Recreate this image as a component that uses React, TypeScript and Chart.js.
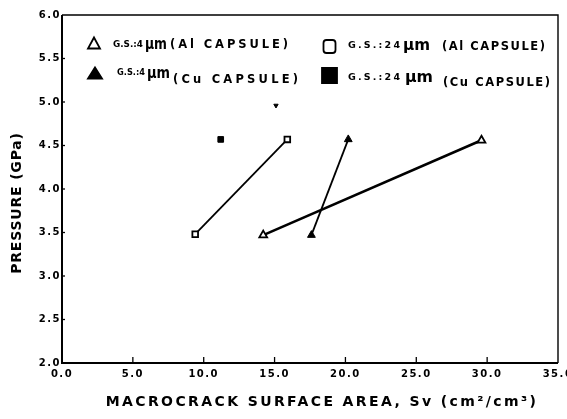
import React, { useEffect, useRef } from "react";
import { Chart, registerables } from "chart.js";

Chart.register(...registerables);

// ---- data ----
const xTickValues = [0, 5, 10, 15, 20, 25, 30, 35];
const yTickValues = [2.0, 2.5, 3.0, 3.5, 4.0, 4.5, 5.0, 5.5, 6.0];

const openTriX = [14.2, 29.6];
const openTriY = [3.47, 4.56];
const filledTriX = [17.6, 20.2];
const filledTriY = [3.47, 4.57];
const openSqX = [9.4, 15.9];
const openSqY = [3.48, 4.57];
const filledSqX = [11.2];
const filledSqY = [4.57];
const strayX = [15.1];
const strayY = [4.96];

const legendGS = ["G.S.:4", "G.S.:24", "G.S.:4", "G.S.:24"];
const legendUnit = ["μm", "μm", "μm", "μm"];
const legendCapsule = ["(Al CAPSULE)", "(Al CAPSULE)", "(Cu CAPSULE)", "(Cu CAPSULE)"];

const xTitle = "MACROCRACK SURFACE AREA, Sv (cm²/cm³)";
const yTitle = "PRESSURE (GPa)";

const FONT = "'DejaVu Sans', sans-serif";

const toPts = (xs: number[], ys: number[]) => xs.map((x, i) => ({ x, y: ys[i] }));

// legend layout (canvas px)
const legendLayout = [
  { mx: 94, my: 43, w: 12, h: 11, style: "tri", fill: false,
    gs: [113, 45, 30], mu: [145, 45, 22], cap: [170, 45, 118] },
  { mx: 329.5, my: 46.5, w: 14, h: 15, style: "sq", fill: false,
    gs: [348, 46, 52], mu: [403, 46, 27], cap: [442, 47, 103] },
  { mx: 95, my: 73, w: 14, h: 11, style: "tri", fill: true,
    gs: [117, 72.5, 28], mu: [147, 74, 23], cap: [173, 80, 125] },
  { mx: 329.5, my: 75.5, w: 15, h: 15, style: "sq", fill: true,
    gs: [348, 78, 52], mu: [405, 78, 28], cap: [443, 83, 107] },
];

function fitText(ctx: CanvasRenderingContext2D, text: string, x: number, y: number, w: number, font: string, mode: "space" | "scale") {
  ctx.save();
  ctx.font = font;
  ctx.letterSpacing = "0px";
  ctx.textAlign = "left";
  ctx.textBaseline = "middle";
  const raw = ctx.measureText(text).width;
  if (mode === "space" && raw < w && text.length > 1) {
    ctx.letterSpacing = `${(w - raw) / (text.length - 1)}px`;
    ctx.fillText(text, x, y);
  } else {
    ctx.translate(x, y);
    ctx.scale(w / raw, 1);
    ctx.fillText(text, 0, 0);
  }
  ctx.restore();
}

const spacingPlugin = {
  id: "spacing",
  beforeDraw(chart: any) {
    const cfg: any = {
      x: { title: "2.4px", labels: "1.5px", dx: 12, dy: 0 },
      y: { title: "0.8px", labels: "1.5px", dx: 0, dy: 14 },
    };
    Object.keys(cfg).forEach((id) => {
      const s = chart.scales[id];
      if (!s || s.__patched) return;
      s.__patched = true;
      const sp = cfg[id];
      const ot = s.drawTitle.bind(s);
      const ol = s.drawLabels.bind(s);
      s.drawTitle = (...args: any[]) => {
        const c = s.ctx;
        c.save();
        c.letterSpacing = sp.title;
        c.translate(sp.dx, sp.dy);
        ot(...args);
        c.restore();
      };
      s.drawLabels = (...args: any[]) => {
        const c = s.ctx;
        c.save();
        c.letterSpacing = sp.labels;
        ol(...args);
        c.restore();
      };
    });
  },
};

const framePlugin = {
  id: "frame",
  afterDraw(chart: any) {
    const { ctx, chartArea: a } = chart;
    const xs = chart.scales.x;
    const ys = chart.scales.y;
    ctx.save();
    ctx.strokeStyle = "#000";
    ctx.lineWidth = 1.4;
    ctx.beginPath();
    ctx.moveTo(a.left, a.top);
    ctx.lineTo(a.right, a.top);
    ctx.lineTo(a.right, a.bottom);
    ctx.stroke();
    ctx.lineWidth = 2;
    ctx.beginPath();
    ctx.moveTo(a.left, a.top);
    ctx.lineTo(a.left, a.bottom);
    ctx.lineTo(a.right, a.bottom);
    ctx.stroke();
    // inward ticks
    ctx.lineWidth = 1.3;
    xTickValues.forEach((v) => {
      if (v === xTickValues[0] || v === xTickValues[xTickValues.length - 1]) return;
      const px = xs.getPixelForValue(v);
      ctx.beginPath();
      ctx.moveTo(px, a.bottom);
      ctx.lineTo(px, a.bottom - 6);
      ctx.stroke();
    });
    yTickValues.forEach((v) => {
      if (v === yTickValues[0] || v === yTickValues[yTickValues.length - 1]) return;
      const py = ys.getPixelForValue(v);
      ctx.beginPath();
      ctx.moveTo(a.left, py);
      ctx.lineTo(a.left + 3, py);
      ctx.stroke();
    });

    // legend
    legendLayout.forEach((it, i) => {
      ctx.save();
      ctx.letterSpacing = "0px";
      ctx.strokeStyle = "#000";
      ctx.fillStyle = it.fill ? "#000" : "#fff";
      ctx.lineWidth = 1.8;
      ctx.beginPath();
      const hw = it.w / 2;
      const hh = it.h / 2;
      if (it.style === "tri") {
        ctx.moveTo(it.mx, it.my - hh);
        ctx.lineTo(it.mx + hw, it.my + hh);
        ctx.lineTo(it.mx - hw, it.my + hh);
        ctx.closePath();
      } else if (it.fill) {
        ctx.rect(it.mx - hw, it.my - hh, it.w, it.h);
      } else {
        ctx.roundRect(it.mx - hw + 1, it.my - hh + 1, it.w - 2, it.h - 2, 3);
      }
      ctx.fill();
      ctx.stroke();
      ctx.fillStyle = "#000";
      fitText(ctx, legendGS[i], it.gs[0], it.gs[1], it.gs[2], `bold 9.5px ${FONT}`, "space");
      fitText(ctx, legendUnit[i], it.mu[0], it.mu[1], it.mu[2], `bold 15px ${FONT}`, "scale");
      fitText(ctx, legendCapsule[i], it.cap[0], it.cap[1], it.cap[2], `bold 11.5px ${FONT}`, "space");
      ctx.restore();
    });
    ctx.restore();
  },
};

export default function App() {
  const ref = useRef<HTMLCanvasElement | null>(null);

  useEffect(() => {
    document.body.style.margin = "0";
    const canvas = ref.current;
    if (!canvas) return;
    const tickFont = { family: FONT, size: 10, weight: "bold" as const };
    const chart = new Chart(canvas, {
      type: "scatter",
      data: {
        datasets: [
          {
            label: "G.S.:4 μm (Al CAPSULE)",
            data: toPts(openTriX, openTriY),
            showLine: true,
            borderColor: "#000",
            borderWidth: 2.6,
            pointStyle: "triangle",
            pointRadius: 4.5,
            pointBackgroundColor: "#fff",
            pointBorderColor: "#000",
            pointBorderWidth: 1.8,
          },
          {
            label: "G.S.:24 μm (Al CAPSULE)",
            data: toPts(openSqX, openSqY),
            showLine: true,
            borderColor: "#000",
            borderWidth: 1.8,
            pointStyle: "rect",
            pointRadius: 4,
            pointBackgroundColor: "#fff",
            pointBorderColor: "#000",
            pointBorderWidth: 1.8,
          },
          {
            label: "G.S.:4 μm (Cu CAPSULE)",
            data: toPts(filledTriX, filledTriY),
            showLine: true,
            borderColor: "#000",
            borderWidth: 1.8,
            pointStyle: "triangle",
            pointRadius: 4.5,
            pointBackgroundColor: "#000",
            pointBorderColor: "#000",
            pointBorderWidth: 1,
          },
          {
            label: "G.S.:24 μm (Cu CAPSULE)",
            data: toPts(filledSqX, filledSqY),
            showLine: false,
            borderColor: "#000",
            pointStyle: "rect",
            pointRadius: 4,
            pointBackgroundColor: "#000",
            pointBorderColor: "#000",
            pointBorderWidth: 1,
          },
          {
            label: "",
            data: toPts(strayX, strayY),
            showLine: false,
            pointStyle: "triangle",
            rotation: 180,
            pointRadius: 2.5,
            pointBackgroundColor: "#000",
            pointBorderColor: "#000",
            pointBorderWidth: 1,
          },
        ],
      },
      options: {
        animation: false,
        responsive: false,
        maintainAspectRatio: false,
        layout: { padding: { top: 15, right: 9, left: 0, bottom: 0 } },
        plugins: {
          legend: { display: false },
          tooltip: { enabled: false },
        },
        scales: {
          x: {
            type: "linear",
            min: 0,
            max: 35,
            afterFit: (s: any) => {
              s.height = 56;
              s.paddingLeft = 0;
              s.paddingRight = 0;
            },
            afterBuildTicks: (s: any) => {
              s.ticks = xTickValues.map((v) => ({ value: v }));
            },
            grid: { display: false, drawTicks: false },
            border: { display: false },
            ticks: {
              color: "#000",
              font: tickFont,
              padding: 5,
              maxRotation: 0,
              autoSkip: false,
              callback: (v: any) => Number(v).toFixed(1),
            },
            title: {
              display: true,
              text: xTitle,
              color: "#000",
              font: { family: FONT, size: 14, weight: "bold" },
              padding: { top: 4, bottom: 8.5 },
            },
          },
          y: {
            type: "linear",
            min: 2,
            max: 6,
            afterFit: (s: any) => {
              s.width = 62;
              s.paddingTop = 0;
              s.paddingBottom = 0;
            },
            afterBuildTicks: (s: any) => {
              s.ticks = yTickValues.map((v) => ({ value: v }));
            },
            grid: { display: false, drawTicks: false },
            border: { display: false },
            ticks: {
              color: "#000",
              font: tickFont,
              padding: 1,
              autoSkip: false,
              callback: (v: any) => Number(v).toFixed(1),
            },
            title: {
              display: true,
              text: yTitle,
              color: "#000",
              font: { family: FONT, size: 14, weight: "bold" },
              padding: { top: 9, bottom: 0 },
            },
          },
        },
      },
      plugins: [spacingPlugin, framePlugin],
    });
    return () => chart.destroy();
  }, []);

  return (
    <div style={{ position: "fixed", left: 0, top: 0, width: 567, height: 419, background: "#fff" }}>
      <canvas ref={ref} width={567} height={419} style={{ display: "block" }} />
    </div>
  );
}
